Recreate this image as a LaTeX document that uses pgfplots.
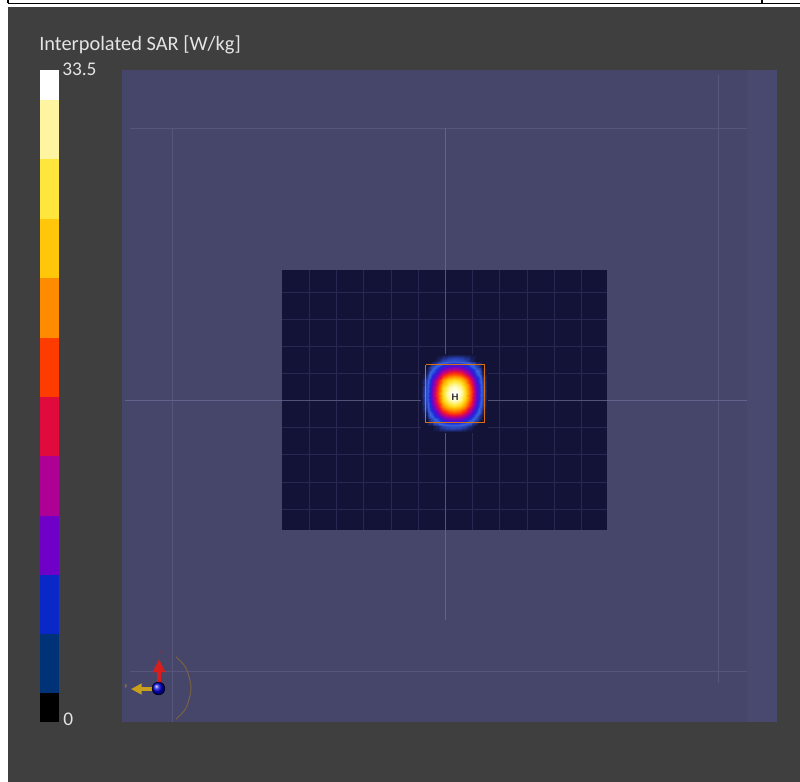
\documentclass[border=0pt]{standalone}
\usepackage{pgfplots}
\pgfplotsset{compat=1.18}
\usepackage{fontspec}
\setmainfont{Carlito}
\usetikzlibrary{arrows.meta}

\definecolor{bgray}{RGB}{63,63,63}
\definecolor{plane}{RGB}{70,70,106}
\definecolor{planeR}{RGB}{73,73,111}
\definecolor{pline}{RGB}{86,86,124}
\definecolor{cline}{RGB}{98,98,140}
\definecolor{darkr}{RGB}{19,19,56}
\definecolor{dline}{RGB}{40,40,82}
\definecolor{txt}{RGB}{228,228,228}
\definecolor{cb0}{RGB}{0,0,0}
\definecolor{cb1}{RGB}{0,50,120}
\definecolor{cb2}{RGB}{10,40,200}
\definecolor{cb3}{RGB}{110,0,200}
\definecolor{cb4}{RGB}{175,0,150}
\definecolor{cb5}{RGB}{225,10,60}
\definecolor{cb6}{RGB}{255,60,0}
\definecolor{cb7}{RGB}{255,140,0}
\definecolor{cb8}{RGB}{255,198,10}
\definecolor{cb9}{RGB}{255,230,60}
\definecolor{cb10}{RGB}{255,245,160}
\definecolor{cb11}{RGB}{255,255,255}
\definecolor{sqor}{RGB}{215,110,20}
\definecolor{zred}{RGB}{215,30,30}
\definecolor{ygold}{RGB}{200,160,30}
\definecolor{arcc}{RGB}{120,95,70}

\begin{document}
\begin{tikzpicture}
\begin{axis}[
  width=600pt, height=586.5pt, scale only axis,
  xmin=0, xmax=800, ymin=0, ymax=782, y dir=reverse,
  hide axis, clip=true,
  point meta min=0, point meta max=33.5,
  colormap={sarblob}{rgb255(0cm)=(19,19,56); rgb255(1cm)=(40,65,180); rgb255(2.5cm)=(60,100,222);
    rgb255(5cm)=(25,45,220); rgb255(8cm)=(90,10,205); rgb255(11cm)=(160,0,160);
    rgb255(14cm)=(220,10,80); rgb255(17cm)=(255,55,10); rgb255(20cm)=(255,120,0);
    rgb255(23cm)=(255,180,0); rgb255(26cm)=(255,225,40); rgb255(29cm)=(255,245,140);
    rgb255(32cm)=(255,255,230); rgb255(33.5cm)=(255,255,255)},
]
% page background and frame
\addplot[fill=white, draw=none] coordinates {(0,0) (800,0) (800,782) (0,782)};
\addplot[fill=bgray, draw=none] coordinates {(8,7) (800,7) (800,782) (8,782)};
\addplot[black, line width=1.1pt] coordinates {(7.5,3.3) (800,3.3)};
\addplot[black, line width=0.9pt] coordinates {(8,0) (8,3.3)};
\addplot[black, line width=0.9pt] coordinates {(762,0) (762,3.3)};

% ground plane
\addplot[fill=plane, draw=none] coordinates {(122,70) (777,70) (777,722) (122,722)};
\addplot[fill=planeR, draw=none] coordinates {(747,70) (777,70) (777,722) (747,722)};
\addplot[pline, line width=0.7pt, unbounded coords=jump] coordinates {
  (130,128) (747,128) (130,nan)
  (130,671) (747,671) (130,nan)
  (172,128) (172,722) (172,nan)
  (718,75) (718,683)};
\addplot[cline, line width=0.7pt, unbounded coords=jump] coordinates {
  (125,400) (747,400) (125,nan)
  (445,128) (445,620)};

% scan area
\addplot[fill=darkr, draw=none] coordinates {(282,270) (607,270) (607,530) (282,530)};
\addplot[dline, line width=0.7pt, unbounded coords=jump] coordinates {
  (309,270) (309,530) (309,nan)
  (336,270) (336,530) (336,nan)
  (363,270) (363,530) (363,nan)
  (391,270) (391,530) (391,nan)
  (418,270) (418,530) (418,nan)
  (472,270) (472,530) (472,nan)
  (499,270) (499,530) (499,nan)
  (527,270) (527,530) (527,nan)
  (554,270) (554,530) (554,nan)
  (581,270) (581,530) (581,nan)
  (282,292) (607,292) (282,nan)
  (282,319) (607,319) (282,nan)
  (282,346) (607,346) (282,nan)
  (282,373) (607,373) (282,nan)
  (282,427) (607,427) (282,nan)
  (282,454) (607,454) (282,nan)
  (282,482) (607,482) (282,nan)
  (282,509) (607,509)};
\addplot[cline!80!darkr, line width=0.7pt, unbounded coords=jump] coordinates {
  (445,270) (445,530) (445,nan)
  (282,400) (607,400)};

% interpolated SAR hot spot [W/kg]
\addplot[surf, shader=interp, mesh/cols=13, point meta=explicit] coordinates {
(421,354) [0] (426.5,354) [0] (432,354) [0] (437.5,354) [0] (443,354) [0] (448.5,354) [0] (454,354) [0] (459.5,354) [0] (465,354) [0] (470.5,354) [0] (476,354) [0] (481.5,354) [0] (487,354) [0]
(421,360.5) [0] (426.5,360.5) [0] (432,360.5) [0] (437.5,360.5) [0.4] (443,360.5) [1.1] (448.5,360.5) [1.6] (454,360.5) [1.8] (459.5,360.5) [1.6] (465,360.5) [1.1] (470.5,360.5) [0.4] (476,360.5) [0] (481.5,360.5) [0] (487,360.5) [0]
(421,367) [0] (426.5,367) [0] (432,367) [1.25] (437.5,367) [3.9] (443,367) [7.2] (448.5,367) [8.9] (454,367) [9.4] (459.5,367) [8.9] (465,367) [7.2] (470.5,367) [3.9] (476,367) [1.25] (481.5,367) [0] (487,367) [0]
(421,373.5) [0] (426.5,373.5) [0.4] (432,373.5) [3.9] (437.5,373.5) [9.1] (443,373.5) [14.1] (448.5,373.5) [17.0] (454,373.5) [17.9] (459.5,373.5) [17.0] (465,373.5) [14.1] (470.5,373.5) [9.1] (476,373.5) [3.9] (481.5,373.5) [0.4] (487,373.5) [0]
(421,380) [0] (426.5,380) [1.1] (432,380) [7.2] (437.5,380) [14.1] (443,380) [21.1] (448.5,380) [24.8] (454,380) [26] (459.5,380) [24.8] (465,380) [21.1] (470.5,380) [14.1] (476,380) [7.2] (481.5,380) [1.1] (487,380) [0]
(421,386.5) [0] (426.5,386.5) [1.6] (432,386.5) [8.9] (437.5,386.5) [17.0] (443,386.5) [24.8] (448.5,386.5) [29.6] (454,386.5) [31.5] (459.5,386.5) [29.6] (465,386.5) [24.8] (470.5,386.5) [17.0] (476,386.5) [8.9] (481.5,386.5) [1.6] (487,386.5) [0]
(421,393) [0] (426.5,393) [1.8] (432,393) [9.4] (437.5,393) [17.9] (443,393) [26] (448.5,393) [31.5] (454,393) [33.5] (459.5,393) [31.5] (465,393) [26] (470.5,393) [17.9] (476,393) [9.4] (481.5,393) [1.8] (487,393) [0]
(421,399.5) [0] (426.5,399.5) [1.6] (432,399.5) [8.9] (437.5,399.5) [17.0] (443,399.5) [24.8] (448.5,399.5) [29.6] (454,399.5) [31.5] (459.5,399.5) [29.6] (465,399.5) [24.8] (470.5,399.5) [17.0] (476,399.5) [8.9] (481.5,399.5) [1.6] (487,399.5) [0]
(421,406) [0] (426.5,406) [1.1] (432,406) [7.2] (437.5,406) [14.1] (443,406) [21.1] (448.5,406) [24.8] (454,406) [26] (459.5,406) [24.8] (465,406) [21.1] (470.5,406) [14.1] (476,406) [7.2] (481.5,406) [1.1] (487,406) [0]
(421,412.5) [0] (426.5,412.5) [0.4] (432,412.5) [3.9] (437.5,412.5) [9.1] (443,412.5) [14.1] (448.5,412.5) [17.0] (454,412.5) [17.9] (459.5,412.5) [17.0] (465,412.5) [14.1] (470.5,412.5) [9.1] (476,412.5) [3.9] (481.5,412.5) [0.4] (487,412.5) [0]
(421,419) [0] (426.5,419) [0] (432,419) [1.25] (437.5,419) [3.9] (443,419) [7.2] (448.5,419) [8.9] (454,419) [9.4] (459.5,419) [8.9] (465,419) [7.2] (470.5,419) [3.9] (476,419) [1.25] (481.5,419) [0] (487,419) [0]
(421,425.5) [0] (426.5,425.5) [0] (432,425.5) [0] (437.5,425.5) [0.4] (443,425.5) [1.1] (448.5,425.5) [1.6] (454,425.5) [1.8] (459.5,425.5) [1.6] (465,425.5) [1.1] (470.5,425.5) [0.4] (476,425.5) [0] (481.5,425.5) [0] (487,425.5) [0]
(421,432) [0] (426.5,432) [0] (432,432) [0] (437.5,432) [0] (443,432) [0] (448.5,432) [0] (454,432) [0] (459.5,432) [0] (465,432) [0] (470.5,432) [0] (476,432) [0] (481.5,432) [0] (487,432) [0]
};
\addplot[sqor, line width=0.9pt] coordinates {(425.5,364.5) (484.5,364.5) (484.5,422.5) (425.5,422.5) (425.5,364.5)};
\node[font=\fontsize{7}{7}\selectfont\bfseries\sffamily, text=black!85] at (axis cs:455,397) {H};

% colour bar
\addplot[fill=cb11, draw=none] coordinates {(40,70) (59,70) (59,100) (40,100)};
\addplot[fill=cb10, draw=none] coordinates {(40,100) (59,100) (59,159) (40,159)};
\addplot[fill=cb9, draw=none] coordinates {(40,159) (59,159) (59,219) (40,219)};
\addplot[fill=cb8, draw=none] coordinates {(40,219) (59,219) (59,278) (40,278)};
\addplot[fill=cb7, draw=none] coordinates {(40,278) (59,278) (59,338) (40,338)};
\addplot[fill=cb6, draw=none] coordinates {(40,338) (59,338) (59,397) (40,397)};
\addplot[fill=cb5, draw=none] coordinates {(40,397) (59,397) (59,456) (40,456)};
\addplot[fill=cb4, draw=none] coordinates {(40,456) (59,456) (59,516) (40,516)};
\addplot[fill=cb3, draw=none] coordinates {(40,516) (59,516) (59,575) (40,575)};
\addplot[fill=cb2, draw=none] coordinates {(40,575) (59,575) (59,634) (40,634)};
\addplot[fill=cb1, draw=none] coordinates {(40,634) (59,634) (59,693) (40,693)};
\addplot[fill=cb0, draw=none] coordinates {(40,693) (59,693) (59,722) (40,722)};

\node[anchor=base west, inner sep=0pt, text=txt, font=\fontsize{15.3}{17}\selectfont] at (axis cs:39,50) {Interpolated SAR [W/kg]};
\node[anchor=base west, inner sep=0pt, text=txt, font=\fontsize{14.5}{16}\selectfont] at (axis cs:62,75) {33.5};
\node[anchor=base west, inner sep=0pt, text=txt, font=\fontsize{14.5}{16}\selectfont] at (axis cs:63,725) {0};

% axis triad
\addplot[arcc, line width=0.8pt, smooth] coordinates {(176,657) (186,668) (191,688) (186,708) (176,719)};
\addplot[ygold, line width=3.5pt, -{Triangle[width=8pt,length=8pt]}] coordinates {(154,689) (131,689)};
\addplot[zred, line width=3.5pt, -{Triangle[width=9pt,length=10pt]}] coordinates {(159,686) (159,659)};
\addplot[only marks, mark=ball, mark size=4.8pt, mark options={ball color=blue!85!black}] coordinates {(158.5,688.5)};
\node[text=zred, font=\fontsize{4}{4}\selectfont] at (axis cs:160,653) {z};
\node[text=ygold, font=\fontsize{4}{4}\selectfont] at (axis cs:126,687) {y};
\end{axis}
\end{tikzpicture}
\end{document}
